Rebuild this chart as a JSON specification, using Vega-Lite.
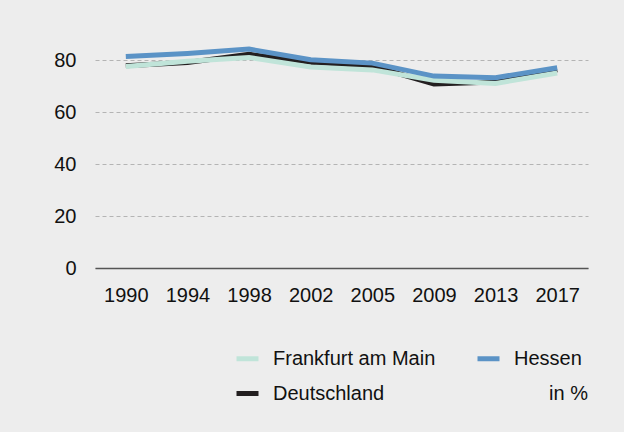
{
  "$schema": "https://vega.github.io/schema/vega-lite/v6.json",
  "autosize": {"type": "none"},
  "width": 493,
  "height": 234,
  "padding": {"left": 95, "top": 34, "right": 36, "bottom": 164},
  "background": "#ededed",
  "config": {
    "view": {"stroke": null},
    "font": "Liberation Sans",
    "axis": {"labelFont": "Liberation Sans", "labelFontSize": 20, "labelColor": "#111111", "ticks": false, "tickSize": 0, "title": null},
    "legend": {"labelFont": "Liberation Sans", "labelFontSize": 20, "labelColor": "#111111"},
    "title": {"font": "Liberation Sans", "fontSize": 20, "fontWeight": "normal", "color": "#111111"}
  },
  "title": {"text": "in %", "orient": "bottom", "anchor": "end", "offset": -20},
  "data": {
    "values": [
      {"Jahr": "1990", "Gebiet": "Deutschland", "Wert": 77.8},
      {"Jahr": "1994", "Gebiet": "Deutschland", "Wert": 79.0},
      {"Jahr": "1998", "Gebiet": "Deutschland", "Wert": 82.2},
      {"Jahr": "2002", "Gebiet": "Deutschland", "Wert": 79.1},
      {"Jahr": "2005", "Gebiet": "Deutschland", "Wert": 77.7},
      {"Jahr": "2009", "Gebiet": "Deutschland", "Wert": 70.8},
      {"Jahr": "2013", "Gebiet": "Deutschland", "Wert": 71.5},
      {"Jahr": "2017", "Gebiet": "Deutschland", "Wert": 76.2},
      {"Jahr": "1990", "Gebiet": "Frankfurt am Main", "Wert": 77.5},
      {"Jahr": "1994", "Gebiet": "Frankfurt am Main", "Wert": 79.5},
      {"Jahr": "1998", "Gebiet": "Frankfurt am Main", "Wert": 81.0},
      {"Jahr": "2002", "Gebiet": "Frankfurt am Main", "Wert": 77.3},
      {"Jahr": "2005", "Gebiet": "Frankfurt am Main", "Wert": 76.2},
      {"Jahr": "2009", "Gebiet": "Frankfurt am Main", "Wert": 72.2},
      {"Jahr": "2013", "Gebiet": "Frankfurt am Main", "Wert": 71.0},
      {"Jahr": "2017", "Gebiet": "Frankfurt am Main", "Wert": 75.0},
      {"Jahr": "1990", "Gebiet": "Hessen", "Wert": 81.3},
      {"Jahr": "1994", "Gebiet": "Hessen", "Wert": 82.5},
      {"Jahr": "1998", "Gebiet": "Hessen", "Wert": 84.2},
      {"Jahr": "2002", "Gebiet": "Hessen", "Wert": 80.1},
      {"Jahr": "2005", "Gebiet": "Hessen", "Wert": 78.8},
      {"Jahr": "2009", "Gebiet": "Hessen", "Wert": 73.8},
      {"Jahr": "2013", "Gebiet": "Hessen", "Wert": 73.2},
      {"Jahr": "2017", "Gebiet": "Hessen", "Wert": 77.0}
    ]
  },
  "mark": {"type": "line", "strokeWidth": 5, "strokeJoin": "miter", "strokeCap": "butt"},
  "encoding": {
    "x": {
      "field": "Jahr", "type": "ordinal",
      "scale": {"type": "point", "padding": 0.5},
      "axis": {"labelAngle": 0, "labelPadding": 17, "domain": true, "domainColor": "#555555", "domainWidth": 1.3, "grid": false}
    },
    "y": {
      "field": "Wert", "type": "quantitative",
      "scale": {"domain": [0, 90], "nice": false},
      "axis": {"values": [0, 20, 40, 60, 80], "domain": false, "labelPadding": 19, "grid": true, "gridColor": "#b4b4b4", "gridDash": [4, 3], "gridWidth": 1}
    },
    "color": {
      "field": "Gebiet", "type": "nominal",
      "scale": {"domain": ["Frankfurt am Main", "Hessen", "Deutschland"], "range": ["#c0e4d9", "#5b93c6", "#231f20"]},
      "legend": {
        "title": null, "orient": "none", "legendX": 139, "legendY": 311, "direction": "horizontal",
        "columns": 2, "columnPadding": 31, "rowPadding": 11,
        "symbolType": "stroke", "symbolSize": 484, "symbolStrokeWidth": 5, "labelOffset": 12, "labelLimit": 300
      }
    },
    "order": {"value": 0}
  }
}
